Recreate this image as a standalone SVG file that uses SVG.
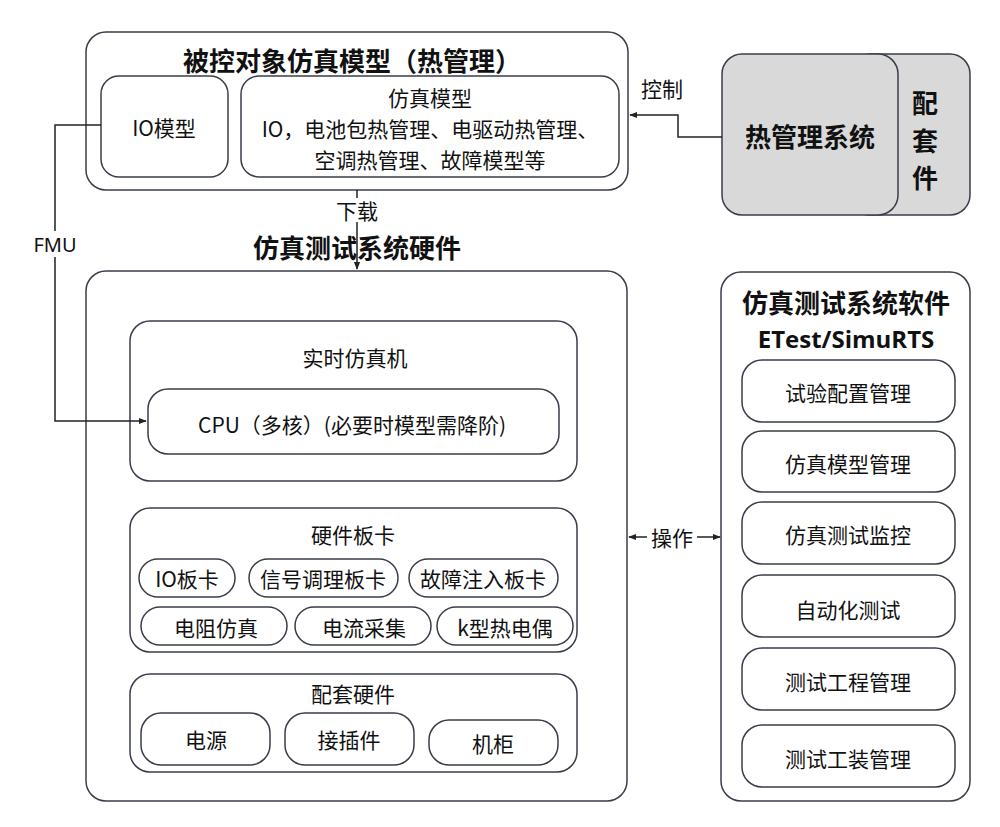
<svg xmlns="http://www.w3.org/2000/svg" width="1000" height="827" viewBox="0 0 1000 827">
<style>
.box{fill:#fff;stroke:#3a3d4a;stroke-width:1.5}
.gray{fill:#d9d9d9;stroke:#3a3d4a;stroke-width:1.5}
.t{font-family:"Noto Sans CJK SC","Noto Sans",sans-serif;font-size:21px;fill:#111;text-anchor:middle;dominant-baseline:central}
.b{font-weight:bold;font-size:26px}
.line{fill:none;stroke:#222;stroke-width:1.5}
</style>
<defs>
<marker id="arr" viewBox="0 0 10 10" refX="9" refY="5" markerWidth="8" markerHeight="8" orient="auto-start-reverse" markerUnits="userSpaceOnUse">
<path d="M0,1 L10,5 L0,9 z" fill="#222"/>
</marker>
</defs>
<rect width="1000" height="827" fill="#fff"/>

<g id="plant-model">
<rect class="box" x="86" y="32" width="542" height="158" rx="20"/>
<text class="t b" x="352" y="59">被控对象仿真模型（热管理）</text>
</g>
<g id="io-model">
<rect class="box" x="101" y="76" width="127" height="101" rx="18"/>
<text class="t" x="164" y="127">IO模型</text>
</g>
<g id="sim-model">
<rect class="box" x="241" y="76" width="378" height="101" rx="18"/>
<text class="t" x="430" y="97">仿真模型</text>
<text class="t" x="430" y="128">IO，电池包热管理、电驱动热管理、</text>
<text class="t" x="430" y="159">空调热管理、故障模型等</text>
</g>

<g id="accessories">
<rect class="gray" x="850" y="54" width="120" height="161" rx="20"/>
<text class="t b" x="925" y="101">配</text>
<text class="t b" x="925" y="139">套</text>
<text class="t b" x="925" y="176">件</text>
</g>
<g id="thermal-system">
<rect class="gray" x="722" y="54" width="176" height="161" rx="20"/>
<text class="t b" x="810" y="135">热管理系统</text>
</g>

<g id="hw-title">
<text class="t b" x="357" y="246">仿真测试系统硬件</text>
</g>
<g id="hardware">
<rect class="box" x="86" y="271" width="541" height="530" rx="20"/>
</g>
<g id="rt-sim">
<rect class="box" x="130" y="321" width="447" height="160" rx="20"/>
<text class="t" x="355" y="357">实时仿真机</text>
</g>
<g id="cpu">
<rect class="box" x="148" y="389" width="411" height="65" rx="20"/>
<text class="t" x="352" y="424">CPU（多核）(必要时模型需降阶)</text>
</g>
<g id="boards">
<rect class="box" x="130" y="508" width="447" height="144" rx="20"/>
<text class="t" x="353" y="534">硬件板卡</text>
</g>
<g id="io-board"><rect class="box" x="139" y="559" width="96" height="38" rx="19"/><text class="t" x="187" y="578">IO板卡</text></g>
<g id="signal-board"><rect class="box" x="249" y="559" width="149" height="38" rx="19"/><text class="t" x="323" y="578">信号调理板卡</text></g>
<g id="fault-board"><rect class="box" x="409" y="559" width="149" height="38" rx="19"/><text class="t" x="483" y="578">故障注入板卡</text></g>
<g id="resistor"><rect class="box" x="141" y="607" width="146" height="38" rx="19"/><text class="t" x="216" y="627">电阻仿真</text></g>
<g id="current"><rect class="box" x="295" y="607" width="136" height="38" rx="19"/><text class="t" x="364" y="627">电流采集</text></g>
<g id="thermocouple"><rect class="box" x="437" y="607" width="136" height="38" rx="19"/><text class="t" x="505" y="627">k型热电偶</text></g>

<g id="aux-hw">
<rect class="box" x="130" y="674" width="447" height="98" rx="20"/>
<text class="t" x="353" y="693">配套硬件</text>
</g>
<g id="power"><rect class="box" x="141" y="713" width="129" height="52" rx="20"/><text class="t" x="206" y="739">电源</text></g>
<g id="connector"><rect class="box" x="285" y="713" width="129" height="52" rx="20"/><text class="t" x="349" y="739">接插件</text></g>
<g id="cabinet"><rect class="box" x="429" y="720" width="129" height="45" rx="20"/><text class="t" x="493" y="743">机柜</text></g>

<g id="software">
<rect class="box" x="721" y="272" width="249" height="529" rx="20"/>
<text class="t b" x="846" y="301">仿真测试系统软件</text>
<text class="t b" x="846" y="338" style="font-family:'Open Sans','DejaVu Sans',sans-serif;font-size:24px">ETest/SimuRTS</text>
</g>
<g id="sw1"><rect class="box" x="742" y="360" width="213" height="62" rx="20"/><text class="t" x="848" y="392">试验配置管理</text></g>
<g id="sw2"><rect class="box" x="742" y="431" width="213" height="61" rx="20"/><text class="t" x="848" y="463">仿真模型管理</text></g>
<g id="sw3"><rect class="box" x="742" y="502" width="213" height="62" rx="20"/><text class="t" x="848" y="534">仿真测试监控</text></g>
<g id="sw4"><rect class="box" x="742" y="575" width="213" height="62" rx="20"/><text class="t" x="848" y="609">自动化测试</text></g>
<g id="sw5"><rect class="box" x="742" y="648" width="213" height="62" rx="20"/><text class="t" x="848" y="681">测试工程管理</text></g>
<g id="sw6"><rect class="box" x="742" y="725" width="213" height="62" rx="20"/><text class="t" x="848" y="758">测试工装管理</text></g>

<g id="connectors">
<path class="line" d="M722,137 H678 V115 H630" marker-end="url(#arr)"/>
<text class="t" x="662" y="88">控制</text>
<path class="line" d="M357,190 V269" marker-end="url(#arr)"/>
<rect x="333" y="198" width="48" height="24" fill="#fff"/>
<text class="t" x="357" y="210">下载</text>
<path class="line" d="M101,125 H55 V421 H146" marker-end="url(#arr)"/>
<rect x="30" y="231" width="52" height="26" fill="#fff"/>
<text class="t" x="55" y="244" style="font-family:'Noto Sans',sans-serif;font-size:20px">FMU</text>
<path class="line" d="M629,537 H720" marker-start="url(#arr)" marker-end="url(#arr)"/>
<rect x="647" y="524" width="50" height="26" fill="#fff"/>
<text class="t" x="672" y="537">操作</text>
</g>
</svg>
